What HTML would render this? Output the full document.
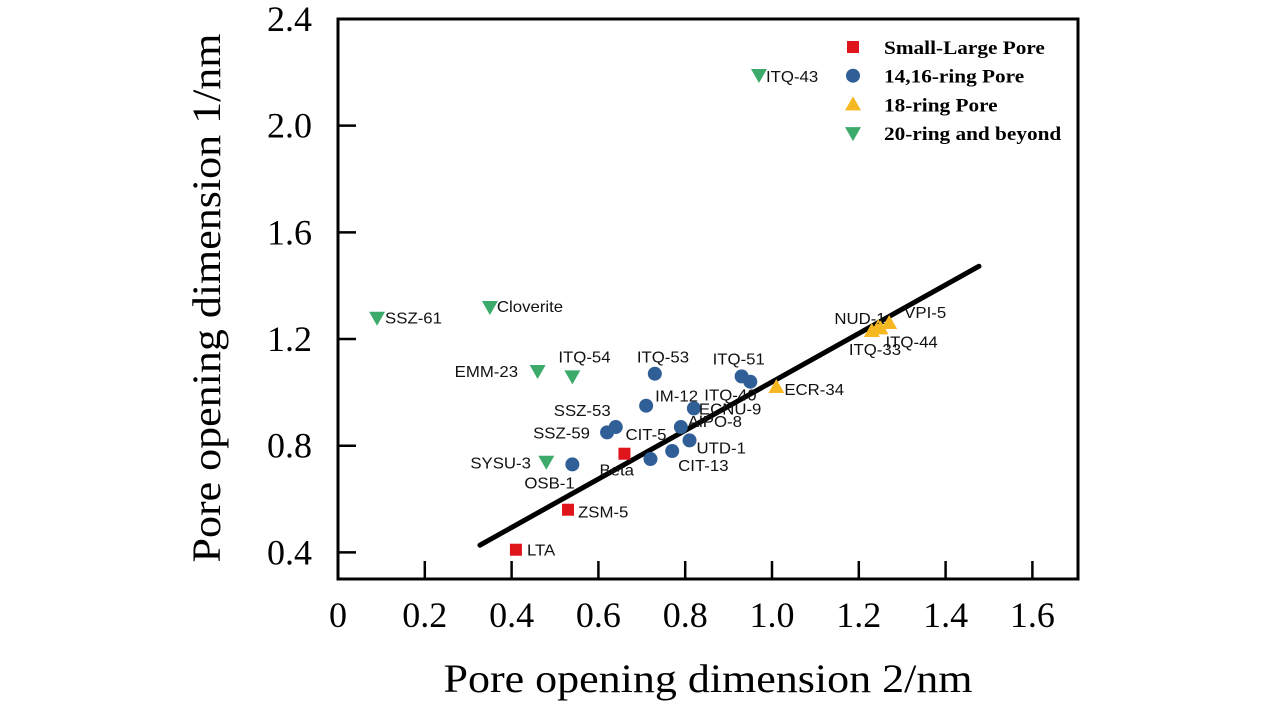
<!DOCTYPE html>
<html><head><meta charset="utf-8"><style>
html,body{margin:0;padding:0;background:#fff;}
svg{display:block;}
.tk{font-family:"Liberation Serif",serif;font-size:36px;fill:#000;}
.lb{font-family:"Liberation Sans",sans-serif;font-size:16px;fill:#111;}
.lg{font-family:"Liberation Serif",serif;font-size:19px;font-weight:bold;fill:#000;}
</style></head><body>
<svg id="chart" width="1283" height="709"></svg>
<script>
const names=["LTA","ZSM-5","Beta","OSB-1","SSZ-59","SSZ-53","CIT-5","IM-12","ITQ-53","CIT-13","UTD-1","AlPO-8","ECNU-9","ITQ-40","ITQ-51","ECR-34","ITQ-33","NUD-1","VPI-5","ITQ-44","ITQ-43","SSZ-61","Cloverite","EMM-23","ITQ-54","SYSU-3"];
const xVals=[0.41,0.53,0.66,0.54,0.62,0.64,0.72,0.71,0.73,0.77,0.81,0.79,0.82,0.95,0.93,1.01,1.23,1.245,1.27,1.25,0.97,0.09,0.35,0.46,0.54,0.48];
const yVals=[0.41,0.56,0.77,0.73,0.85,0.87,0.75,0.95,1.07,0.78,0.82,0.87,0.94,1.04,1.06,1.02,1.23,1.245,1.26,1.24,2.19,1.28,1.32,1.08,1.06,0.74];
const groups=[0,0,0,1,1,1,1,1,1,1,1,1,1,1,1,2,2,2,2,2,3,3,3,3,3,3];
const labelDx=[11,10,-25,-48,-74,-62,-25,9,-18,6,7,7,5,-46,-29,8,-23,-44,15,5,7,8,7,-83,-14,-76];
const labelDy=[0,2,16,18,0,-17,-25,-10,-17,14,7,-6,0,13,-18,2,18,-9,-11,13,1,0,-1,0,-20,1];
const legendNames=["Small-Large Pore","14,16-ring Pore","18-ring Pore","20-ring and beyond"];
const colors=["#e0141b","#2f5f96","#f5b820","#3caa6a"];
const xTicks=[0,0.2,0.4,0.6,0.8,1.0,1.2,1.4,1.6];
const xTickLabels=["0","0.2","0.4","0.6","0.8","1.0","1.2","1.4","1.6"];
const yTicks=[0.4,0.8,1.2,1.6,2.0,2.4];
const yTickLabels=["0.4","0.8","1.2","1.6","2.0","2.4"];
const fitX=[0.327,1.477];
const fitY=[0.427,1.473];

const L=338,R=1078,T=19,B=579;
const X=v=>L+v*434;
const Y=v=>T+(2.4-v)*266.7;
const svg=document.getElementById('chart');
const NS="http://www.w3.org/2000/svg";
function mk(tag,attrs,parent){const e=document.createElementNS(NS,tag);for(const k in attrs)e.setAttribute(k,attrs[k]);(parent||svg).appendChild(e);return e;}

const frame=mk('rect',{x:L,y:T,width:R-L,height:B-T,fill:'none',stroke:'#000','stroke-width':3});


xTicks.forEach((v,i)=>{
  const t=mk('line',{x1:X(v),x2:X(v),y1:B,y2:B-18,stroke:'#000','stroke-width':2.5});
  
  
  const l=mk('text',{x:X(v),y:627,'text-anchor':'middle',class:'tk'});l.textContent=xTickLabels[i];
  
  
});
yTicks.forEach((v,i)=>{
  const t=mk('line',{x1:L,x2:L+18,y1:Y(v),y2:Y(v),stroke:'#000','stroke-width':2.5});
  
  
  const l=mk('text',{x:312,y:Y(v)+12,'text-anchor':'end',class:'tk'});l.textContent=yTickLabels[i];
  
  
});
const xt=mk('text',{x:0,y:0,'text-anchor':'middle',class:'tk',style:'font-size:40px',transform:'translate(708,692) scale(1.1,1)'});xt.textContent="Pore opening dimension 2/nm";


const yt=mk('text',{x:0,y:0,'text-anchor':'middle',class:'tk',style:'font-size:40px',transform:'translate(220,298) rotate(-90) scale(1.1,1)'});yt.textContent="Pore opening dimension 1/nm";



const fl=mk('line',{x1:X(fitX[0]),y1:Y(fitY[0]),x2:X(fitX[1]),y2:Y(fitY[1]),stroke:'#000','stroke-width':5,'stroke-linecap':'round'});



function marker(g,cx,cy,parent){
  const c=colors[g];let e;
  if(g===0)e=mk('rect',{x:cx-6,y:cy-6,width:12,height:12,fill:c},parent);
  else if(g===1)e=mk('circle',{cx:cx,cy:cy,r:7,fill:c},parent);
  else if(g===2)e=mk('polygon',{points:`${cx},${cy-8} ${cx+8},${cy+6} ${cx-8},${cy+6}`,fill:c},parent);
  else e=mk('polygon',{points:`${cx-8},${cy-6} ${cx+8},${cy-6} ${cx},${cy+8}`,fill:c},parent);
  return e;
}
names.forEach((n,i)=>{
  const cx=X(xVals[i]),cy=Y(yVals[i]);
  const m=marker(groups[i],cx,cy);
  
  
  const t=mk('text',{x:0,y:0,class:'lb',transform:`translate(${cx+labelDx[i]},${cy+labelDy[i]+6}) scale(1.05,1)`});t.textContent=n;
  
  
});
legendNames.forEach((n,i)=>{
  const y=47+i*28.7;
  const m=marker(i,853,y);
  
  
  const t=mk('text',{x:0,y:0,class:'lg',transform:`translate(884,${y+7}) scale(1.12,1)`});t.textContent=n;
  
  
});
</script>
</body></html>
